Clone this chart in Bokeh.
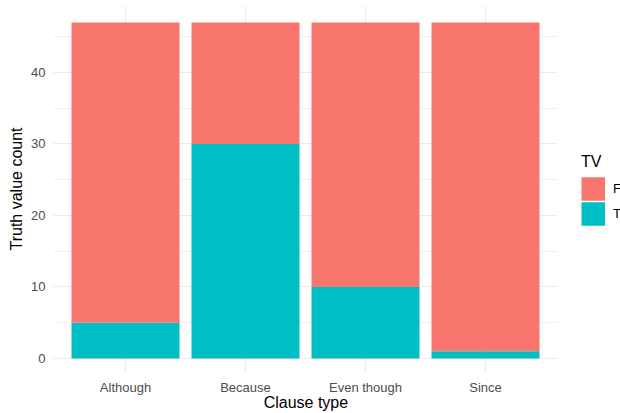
from bokeh.plotting import figure
from bokeh.models import Range1d, FixedTicker, Legend, LegendItem, ColumnDataSource, BoxAnnotation
from bokeh.embed import file_html
from bokeh.resources import INLINE

clause_types = ["Although", "Because", "Even though", "Since"]
tv_true = [5, 30, 10, 1]
tv_false = [42, 17, 37, 46]
y_ticks = [0, 10, 20, 30, 40]
y_minor_ticks = [5, 15, 25, 35, 45]
series_labels = ["F", "T"]
series_colors = ["#F8766D", "#00BFC4"]

FONT = "Liberation Sans"
TICK_COLOR = "#4D4D4D"
GRID_COLOR = "#EBEBEB"

x_pos = list(range(len(clause_types)))
source = ColumnDataSource(dict(x=x_pos, T=tv_true, F=tv_false))

# panel spans -0.6 .. n-0.4 (ggplot discrete expansion); the frame continues to the
# right edge of the figure to host the legend, that strip is blanked out below.
panel_start = -0.6
panel_end = len(clause_types) - 0.4
p = figure(
    x_range=Range1d(panel_start, panel_end + 63 / 120),
    y_range=Range1d(-1.96, 49.37),
    width=620, height=413,
    output_backend="svg", toolbar_location=None,
    min_border_left=53, min_border_right=0, min_border_top=5, min_border_bottom=41,
)
p.outline_line_color = None
p.background_fill_color = "white"
p.border_fill_color = "white"

rs = p.vbar_stack(["T", "F"], x="x", width=0.9, source=source,
                  fill_color=[series_colors[1], series_colors[0]], line_color=None)

# legend key proxies (no visible data), drawn as thick butt-capped strokes in the legend
nan = float("nan")
key_f = p.line(x=[nan], y=[nan], line_color=series_colors[0], line_width=23.5, line_cap="butt")
key_t = p.line(x=[nan], y=[nan], line_color=series_colors[1], line_width=23.5, line_cap="butt")

xt = FixedTicker(ticks=x_pos, minor_ticks=[])
p.xaxis.ticker = xt
p.xgrid.ticker = xt
p.xaxis.major_label_overrides = {i: c for i, c in zip(x_pos, clause_types)}
p.xaxis.bounds = (panel_start, panel_end)

yt = FixedTicker(ticks=y_ticks, minor_ticks=y_minor_ticks)
p.yaxis.ticker = yt
p.ygrid.ticker = yt

for ax in (p.xaxis, p.yaxis):
    ax.axis_line_color = None
    ax.major_tick_line_color = None
    ax.minor_tick_line_color = None
    ax.major_tick_out = 0
    ax.major_tick_in = 0
    ax.minor_tick_out = 0
    ax.minor_tick_in = 0
    ax.major_label_text_font = FONT
    ax.major_label_text_font_size = "13px"
    ax.major_label_text_color = TICK_COLOR
    ax.axis_label_text_font = FONT
    ax.axis_label_text_font_size = "16px"
    ax.axis_label_text_font_style = "normal"
    ax.axis_label_text_color = "black"

# the axis title is centred on the frame, which runs under the legend strip;
# trailing no-break spaces move the visible words back over the panel centre
p.xaxis.axis_label = "Clause type" + "\u00a0" * 14
p.yaxis.axis_label = "Truth value count"
p.xaxis.major_label_standoff = 7
p.xaxis.axis_label_standoff = -4
p.yaxis.major_label_standoff = 8
p.yaxis.axis_label_standoff = 3

p.xgrid.grid_line_color = GRID_COLOR
p.xgrid.grid_line_width = 1.1
p.ygrid.grid_line_color = GRID_COLOR
p.ygrid.grid_line_width = 1.1
p.ygrid.minor_grid_line_color = GRID_COLOR
p.ygrid.minor_grid_line_width = 0.8

# blank strip right of the panel (legend area)
p.add_layout(BoxAnnotation(left=panel_end, fill_color="white", fill_alpha=1.0,
                           line_alpha=0.0, level="underlay"))

legend = Legend(
    items=[LegendItem(label=series_labels[0], renderers=[key_f]),
           LegendItem(label=series_labels[1], renderers=[key_t])],
    location=(528, 145.8),
    title="TV",
    title_text_font=FONT, title_text_font_size="16px", title_text_font_style="normal",
    title_text_color="black", title_standoff=5,
    label_text_font=FONT, label_text_font_size="13px", label_text_color="black",
    label_standoff=8,
    glyph_width=24, glyph_height=25, spacing=0,
    padding=0, margin=0,
    border_line_color=None, background_fill_color=None,
)
p.add_layout(legend)

open("out.html", "w").write(file_html(p, INLINE))
